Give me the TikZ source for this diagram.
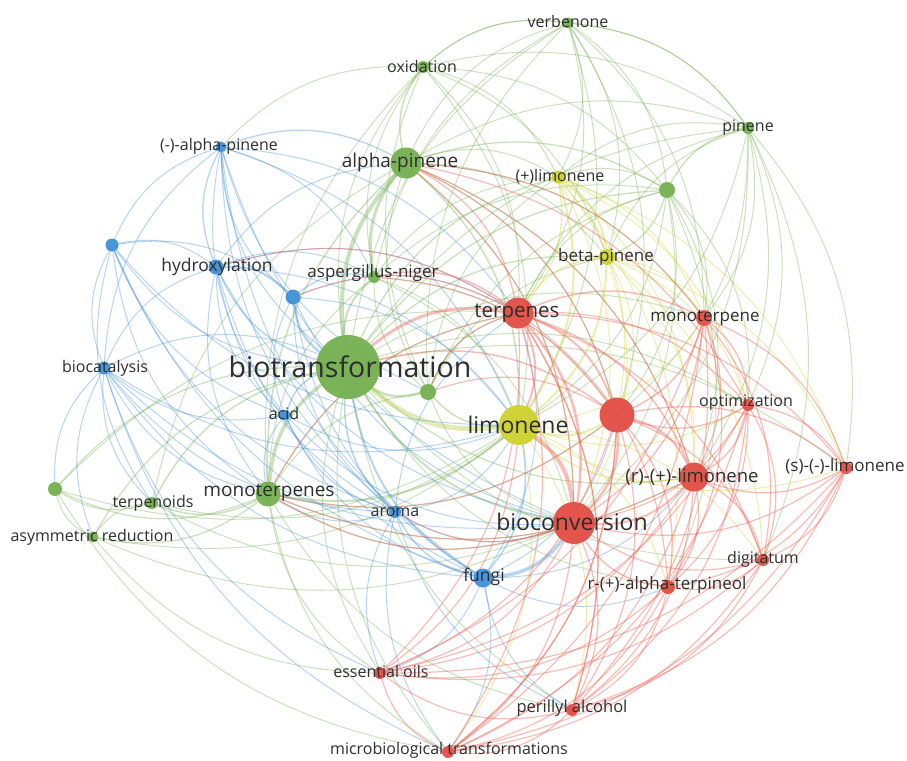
\documentclass[tikz,border=0pt]{standalone}
\usepackage{fontspec}
\setmainfont{Open Sans}
\pgfdeclarelayer{bg}
\pgfdeclarelayer{paper}
\pgfsetlayers{paper,bg,main}
\definecolor{gr}{RGB}{112,174,74}
\definecolor{bl}{RGB}{58,140,214}
\definecolor{yl}{RGB}{204,208,40}
\definecolor{rd}{RGB}{226,72,62}
\definecolor{rdl}{RGB}{238,100,88}
\definecolor{yg}{RGB}{175,200,60}
\def\ccx{470pt}\def\ccy{-400pt}
\newcommand\lnk[4]{%
  \pgfpointanchor{#1}{center}\pgfgetlastxy{\ax}{\ay}%
  \pgfpointanchor{#2}{center}\pgfgetlastxy{\bx}{\by}%
  \pgfmathsetmacro\crs{((\bx-\ax)/100)*((\ccy-(\ay+\by)/2)/100)-((\by-\ay)/100)*((\ccx-(\ax+\bx)/2)/100)}%
  \ifdim\crs pt<0pt
    \draw[lk,#3,line width=#4*1.0pt] (#1) to[bend left=24] (#2);%
  \else
    \draw[lk,#3,line width=#4*1.0pt] (#1) to[bend right=24] (#2);%
  \fi}
\tikzset{
  lk/.style={draw opacity=0.36,line cap=round},
  rlk/.style={draw opacity=0.42,line width=1.2pt},
  vdot/.style={circle,inner sep=0pt,fill=#1,fill opacity=0.92,draw=none},
  lbl/.style={text=black!82,inner sep=0pt,font=\fontsize{16}{16}\selectfont},
}
\begin{document}
\begin{tikzpicture}[x=1pt,y=-1pt]
\begin{pgfonlayer}{paper}
\fill[white] (0,0) rectangle (907,760);
\end{pgfonlayer}
\useasboundingbox (0,0) rectangle (907,760);
% ---- circles ----
% blue
\node[vdot=bl,minimum size=11pt] (mpinene) at (221,147) {};
\node[vdot=bl,minimum size=13pt] (bu1) at (112,245) {};
\node[vdot=bl,minimum size=15pt] (hydrox) at (216,267) {};
\node[vdot=bl,minimum size=15pt] (bu2) at (293,297) {};
\node[vdot=bl,minimum size=13pt] (biocat) at (104,368) {};
\node[vdot=bl,minimum size=11pt] (acid) at (285,415) {};
\node[vdot=bl,minimum size=12pt] (aroma) at (395,512) {};
\node[vdot=bl,minimum size=19pt] (fungi) at (483,578) {};
% green
\node[vdot=gr,minimum size=11pt] (verb) at (568,23) {};
\node[vdot=gr,minimum size=12pt] (oxid) at (423,67) {};
\node[vdot=gr,minimum size=12pt] (pinene) at (748,128) {};
\node[vdot=gr,minimum size=31pt] (apinene) at (406,163) {};
\node[vdot=gr,minimum size=16pt] (gu1) at (667,190) {};
\node[vdot=gr,minimum size=12pt] (asper) at (374,277) {};
\node[vdot=gr,minimum size=64pt] (biot) at (348,367) {};
\node[vdot=gr,minimum size=16pt] (gu2) at (428,392) {};
\node[vdot=gr,minimum size=25pt] (monot) at (268,494) {};
\node[vdot=gr,minimum size=12pt] (terpd) at (152,503) {};
\node[vdot=gr,minimum size=14pt] (gu3) at (55,489) {};
\node[vdot=gr,minimum size=11pt] (asym) at (93,537) {};
% yellow
\node[vdot=yl,minimum size=13pt] (plim) at (558,177) {};
\node[vdot=yl,minimum size=16pt] (bpin) at (607,257) {};
\node[vdot=yl,minimum size=40pt] (lim) at (519,425) {};
% red
\node[vdot=rd,minimum size=31pt] (terp) at (518,313) {};
\node[vdot=rd,minimum size=16pt] (mono) at (704,318) {};
\node[vdot=rd,minimum size=35pt] (ru1) at (617,415) {};
\node[vdot=rd,minimum size=12pt] (optim) at (748,405) {};
\node[vdot=rd,minimum size=12pt] (slim) at (846,468) {};
\node[vdot=rd,minimum size=29pt] (rlim) at (694,477) {};
\node[vdot=rd,minimum size=42pt] (biocon) at (574,523) {};
\node[vdot=rd,minimum size=12pt] (digit) at (763,560) {};
\node[vdot=rd,minimum size=14pt] (terpin) at (668,587) {};
\node[vdot=rd,minimum size=12pt] (ess) at (380,673) {};
\node[vdot=rd,minimum size=12pt] (peril) at (572,710) {};
\node[vdot=rd,minimum size=12pt] (micro) at (448,752) {};
% ---- labels ----
\node[lbl] (mpinene-l) at (219,146) {(-)-alpha-pinene};
\node[lbl,font=\fontsize{17.5}{17.5}\selectfont] (hydrox-l) at (217,267) {hydroxylation};
\node[lbl] (biocat-l) at (105,368) {biocatalysis};
\node[lbl] (acid-l) at (284,413) {acid};
\node[lbl] (aroma-l) at (395,512) {aroma};
\node[lbl,font=\fontsize{17.5}{17.5}\selectfont] (fungi-l) at (484,577) {fungi};
\node[lbl] (verb-l) at (568,22) {verbenone};
\node[lbl] (oxid-l) at (422,66) {oxidation};
\node[lbl] (pinene-l) at (748,128) {pinene};
\node[lbl,font=\fontsize{19}{19}\selectfont] (apinene-l) at (400,163) {alpha-pinene};
\node[lbl,font=\fontsize{17}{17}\selectfont] (asper-l) at (373,273) {aspergillus-niger};
\node[lbl,font=\fontsize{28.5}{28.5}\selectfont] (biot-l) at (350,367) {biotransformation};
\node[lbl,font=\fontsize{19}{19}\selectfont] (monot-l) at (269,493) {monoterpenes};
\node[lbl] (terpd-l) at (153,503) {terpenoids};
\node[lbl] (asym-l) at (92,537) {asymmetric reduction};
\node[lbl] (plim-l) at (560,177) {(+)limonene};
\node[lbl,font=\fontsize{17}{17}\selectfont] (bpin-l) at (606,257) {beta-pinene};
\node[lbl,font=\fontsize{23}{23}\selectfont] (lim-l) at (518,425) {limonene};
\node[lbl,font=\fontsize{20.5}{20.5}\selectfont] (terp-l) at (517,313) {terpenes};
\node[lbl,font=\fontsize{17}{17}\selectfont] (mono-l) at (705,318) {monoterpene};
\node[lbl] (optim-l) at (746,403) {optimization};
\node[lbl,font=\fontsize{17}{17}\selectfont] (slim-l) at (845,466) {(s)-(-)-limonene};
\node[lbl,font=\fontsize{18.5}{18.5}\selectfont] (rlim-l) at (692,477) {(r)-(+)-limonene};
\node[lbl,font=\fontsize{23}{23}\selectfont] (biocon-l) at (572,522) {bioconversion};
\node[lbl] (digit-l) at (763,559) {digitatum};
\node[lbl,font=\fontsize{17}{17}\selectfont] (terpin-l) at (667,585) {r-(+)-alpha-terpineol};
\node[lbl] (ess-l) at (381,671) {essential oils};
\node[lbl,font=\fontsize{16.5}{16.5}\selectfont] (peril-l) at (572,708) {perillyl alcohol};
\node[lbl] (micro-l) at (449,750) {microbiological transformations};
% ---- links ----
\begin{pgfonlayer}{bg}
% green weighted
\foreach \a/\b/\w in {biot/apinene/4,biot/asper/2,biot/gu2/2.5,biot/monot/3.5,biot/terpd/1.5,biot/gu1/1.3,biot/biocon/2,biot/rlim/1.3,biot/plim/1.3,biot/bpin/1.3,apinene/oxid/1.5,apinene/asper/3,apinene/lim/1.5,apinene/monot/1.5,apinene/gu1/1.3,pinene/gu1/1.3,gu1/bpin/1.3,gu2/lim/1.5,monot/terpd/1.5,monot/gu3/1.2,monot/asym/1.2,monot/lim/2,biot/gu3/1.2,biot/asym/1.2}{\lnk{\a}{\b}{gr}{\w}}
\lnk{biot}{lim}{yg}{5}
% green thin
\foreach \a/\b in {biot/oxid,biot/verb,biot/pinene,biot/mono,biot/optim,biot/digit,biot/slim,biot/terpin,biot/ess,biot/peril,biot/micro,apinene/verb,apinene/pinene,apinene/plim,apinene/bpin,apinene/mono,apinene/gu2,apinene/ru1,apinene/biocon,apinene/rlim,apinene/terpd,oxid/verb,oxid/pinene,oxid/asper,oxid/gu1,oxid/lim,oxid/terp,oxid/bpin,oxid/plim,oxid/gu2,oxid/monot,verb/pinene,verb/gu1,verb/plim,verb/bpin,verb/lim,verb/terp,verb/mono,verb/ru1,verb/asper,verb/gu2,pinene/plim,pinene/bpin,pinene/lim,pinene/terp,pinene/mono,pinene/ru1,pinene/rlim,pinene/slim,pinene/optim,pinene/biocon,pinene/digit,gu1/plim,gu1/lim,gu1/terp,gu1/mono,gu1/ru1,gu1/rlim,gu1/biocon,gu1/optim,gu1/terpin,gu1/asper,gu1/gu2,asper/gu2,asper/lim,asper/biocon,asper/monot,asper/ru1,asper/plim,gu2/monot,gu2/terp,gu2/biocon,gu2/bpin,gu2/plim,monot/terp,monot/biocon,monot/ru1,monot/ess,monot/micro,monot/rlim,monot/peril,terpd/gu3,terpd/asym,terpd/lim,terpd/biocon,gu3/asym,gu3/lim,gu3/terp,gu3/micro,asym/lim,asym/biocon,asym/ess,oxid/mpinene,verb/oxid,pinene/verb}{\lnk{\a}{\b}{gr}{1}}
% blue weighted
\foreach \a/\b/\w in {biot/bu2/2.5,biot/hydrox/1.5,biot/acid/1.5,biot/aroma/1.5,biot/fungi/2,mpinene/hydrox/1.3,mpinene/apinene/1.3,hydrox/bu2/1.3,bu2/asper/1.3,acid/aroma/1.3,aroma/fungi/1.5,fungi/biocon/3.5,fungi/lim/1.5}{\lnk{\a}{\b}{bl}{\w}}
% blue thin
\foreach \a/\b in {biot/biocat,biot/bu1,biot/mpinene,mpinene/bu1,mpinene/biocat,mpinene/bu2,mpinene/acid,mpinene/aroma,mpinene/fungi,mpinene/lim,mpinene/terp,mpinene/asper,mpinene/biocon,mpinene/gu2,bu1/hydrox,bu1/biocat,bu1/bu2,bu1/acid,bu1/fungi,bu1/aroma,bu1/lim,bu1/monot,bu1/terpd,hydrox/biocat,hydrox/acid,hydrox/aroma,hydrox/fungi,hydrox/lim,hydrox/biocon,hydrox/terp,hydrox/asper,hydrox/monot,hydrox/apinene,bu2/acid,bu2/aroma,bu2/fungi,bu2/lim,bu2/biocon,bu2/terp,biocat/acid,biocat/aroma,biocat/fungi,biocat/ess,biocat/micro,biocat/lim,biocat/biocon,biocat/monot,biocat/terpd,biocat/gu3,biocat/asym,acid/fungi,acid/lim,acid/biocon,acid/monot,aroma/lim,aroma/biocon,aroma/terp,aroma/ess,aroma/micro,aroma/peril,aroma/monot,fungi/terp,fungi/ru1,fungi/rlim,fungi/ess,fungi/micro,fungi/peril,fungi/terpin}{\lnk{\a}{\b}{bl}{1}}
% yellow weighted
\foreach \a/\b/\w in {plim/bpin/2,plim/lim/2,plim/terp/1.3,bpin/lim/2,bpin/terp/1.3,lim/ru1/2,lim/rlim/1.5}{\lnk{\a}{\b}{yl}{\w}}
% yellow thin
\foreach \a/\b in {plim/ru1,plim/biocon,plim/rlim,plim/mono,plim/optim,plim/slim,plim/terpin,bpin/ru1,bpin/biocon,bpin/rlim,bpin/mono,bpin/optim,bpin/slim,bpin/digit,lim/mono,lim/optim,lim/slim,lim/digit,lim/terpin,lim/peril,lim/micro}{\lnk{\a}{\b}{yl}{1}}
% red weighted
\foreach \a/\b/\w in {terp/biot/3,terp/lim/2,terp/ru1/2,terp/mono/1.5,terp/biocon/2.5,terp/rlim/1.5,terp/asper/1.5,terp/apinene/1.3,mono/ru1/1.5,mono/rlim/1.3,mono/optim/1.3,mono/biocon/1.3,ru1/rlim/2,ru1/biocon/2.5,ru1/optim/1.3,ru1/slim/1.3,ru1/terpin/1.3,ru1/biot/1.5,optim/rlim/1.3,optim/slim/1.3,slim/rlim/1.3,rlim/biocon/2,rlim/digit/1.3,rlim/terpin/1.3,biocon/lim/4,biocon/terpin/1.5,biocon/peril/1.3,terp/gu2/1.2,ru1/gu2/1.2,biocon/monot/1.3}{\lnk{\a}{\b}{rdl,rlk}{\w}}
% red thin
\foreach \a/\b in {terp/optim,terp/slim,terp/digit,terp/terpin,terp/ess,terp/peril,terp/micro,mono/slim,mono/digit,mono/terpin,mono/peril,mono/ess,mono/micro,ru1/digit,ru1/ess,ru1/peril,ru1/micro,optim/biocon,optim/digit,optim/terpin,optim/peril,optim/ess,optim/micro,slim/biocon,slim/digit,slim/terpin,slim/peril,slim/micro,slim/ess,rlim/peril,rlim/ess,rlim/micro,biocon/digit,biocon/ess,biocon/micro,digit/terpin,digit/peril,digit/ess,digit/micro,terpin/peril,terpin/micro,terpin/ess,ess/peril,ess/micro,peril/micro,terp/monot,terp/hydrox,terp/bu2,ru1/asper,ru1/apinene,biocon/apinene,mono/apinene,rlim/apinene,rlim/monot,biocon/aroma,ru1/monot,optim/apinene,ess/lim,peril/terp,micro/ru1}{\lnk{\a}{\b}{rdl,rlk}{1.2}}
\end{pgfonlayer}
\end{tikzpicture}
\end{document}
